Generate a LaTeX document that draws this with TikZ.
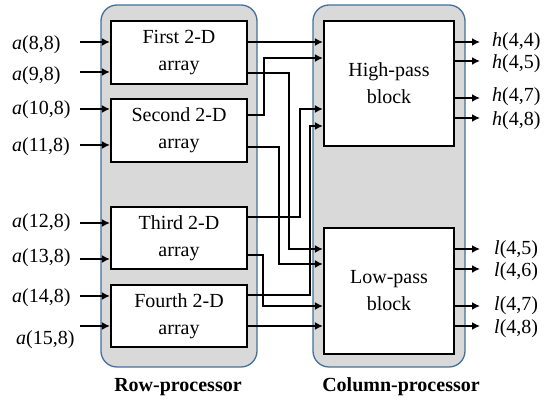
\documentclass[tikz,border=0pt]{standalone}
\usepackage{fontspec}
\setmainfont{Liberation Serif}
\usetikzlibrary{arrows.meta}
\definecolor{panelfill}{HTML}{D9D9D9}
\definecolor{panelline}{HTML}{41719C}
\tikzset{
  panel/.style={draw=panelline,fill=panelfill,line width=1.3pt,rounded corners=16pt,inner sep=0pt},
  blk/.style={draw,fill=white,line width=2.2pt,inner sep=0pt,align=center,font=\fontsize{20}{27}\selectfont},
  lab/.style={inner sep=0pt,font=\fontsize{20}{24}\selectfont},
  wire/.style={line width=1.8pt,->}
}
\begin{document}
\begin{tikzpicture}[x=1pt,y=-1pt,>={Latex[length=8pt,width=8pt]}]
\useasboundingbox (0,0) rectangle (550,403);
% Panels
\node[panel,minimum width=156,minimum height=362] (rowp) at (179,186) {};
\node[panel,minimum width=152,minimum height=362] (colp) at (389,186) {};
\node[lab,font=\fontsize{20}{24}\selectfont\bfseries] (rowlab) at (178,387) {Row-processor};
\node[lab,font=\fontsize{20}{24}\selectfont\bfseries] (collab) at (401,387) {Column-processor};

% Row arrays
\node[blk,minimum width=136,minimum height=63] (first) at (179,52.5) {First 2-D\\array};
\node[blk,minimum width=136,minimum height=63] (second) at (179,130.5) {Second 2-D\\array};
\node[blk,minimum width=136,minimum height=62] (third) at (179,238) {Third 2-D\\array};
\node[blk,minimum width=136,minimum height=62] (fourth) at (179,316) {Fourth 2-D\\array};

% Filter blocks
\node[blk,minimum width=130,minimum height=125] (high) at (389,83.5) {High-pass\\block};
\node[blk,minimum width=130,minimum height=126] (low) at (389,291) {Low-pass\\block};

% Inputs
\foreach \y/\ly/\lx/\t [count=\i] in {42/45/12/{8,8},72/76/12/{9,8},109/110/12/{10,8},145/147/12/{11,8},
                                       223/223/12/{12,8},259/258/12/{13,8},296/298/12/{14,8},326/340/16/{15,8}} {
  \node[lab,anchor=west] (a\i) at (\lx,\ly) {\textit{a}(\t)};
  \coordinate (s\i) at (80,\y);
  \draw[wire] (s\i) -- (s\i -| first.west);
}

% Row to column wiring
\draw[wire] (first.east |- 0,42) -- (high.west |- 0,42);
\draw[wire] (second.east |- 0,115) -- ++(16,0) |- (high.west |- 0,58);
\draw[wire] (third.east |- 0,217) -- ++(52,0) |- (high.west |- 0,109);
\draw[wire] (fourth.east |- 0,295) -- ++(62,0) |- (high.west |- 0,126);
\draw[wire] (first.east |- 0,73) -- ++(41,0) |- (low.west |- 0,249);
\draw[wire] (second.east |- 0,147) -- ++(31,0) |- (low.west |- 0,264);
\draw[wire] (third.east |- 0,255) -- ++(15,0) |- (low.west |- 0,306);
\draw[wire] (fourth.east |- 0,326) -- (low.west |- 0,326);

% Outputs
\foreach \y/\ly/\t [count=\i] in {42/42/{4,4},61/64/{4,5},98/97/{4,7},118/121/{4,8}} {
  \coordinate (ho\i) at (480,\y);
  \draw[wire] (high.east |- ho\i) -- (ho\i);
  \node[lab,anchor=west] (h\i) at (492,\ly) {\textit{h}(\t)};
}
\foreach \y/\ly/\t [count=\i] in {249/250/{4,5},269/272/{4,6},306/306/{4,7},326/329/{4,8}} {
  \coordinate (lo\i) at (480,\y);
  \draw[wire] (low.east |- lo\i) -- (lo\i);
  \node[lab,anchor=west] (l\i) at (494,\ly) {\textit{l}(\t)};
}
\end{tikzpicture}
\end{document}
